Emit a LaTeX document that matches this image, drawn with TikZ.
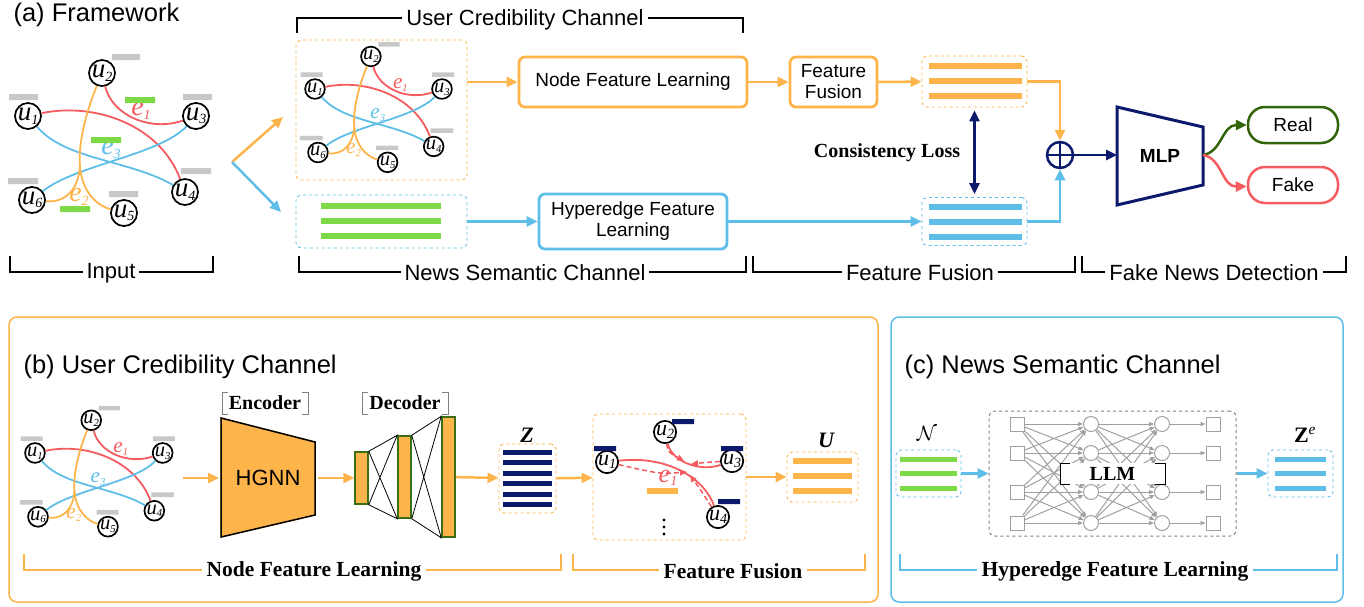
\documentclass[tikz,border=0pt]{standalone}
\usepackage{fontspec}
\setmainfont{Liberation Serif}
\setsansfont{Liberation Sans}
\usetikzlibrary{arrows.meta,positioning}

\definecolor{cOrange}{RGB}{253,180,75}
\definecolor{cBlue}{RGB}{95,190,232}
\definecolor{cRed}{RGB}{245,92,96}
\definecolor{cGreen}{RGB}{126,217,70}
\definecolor{cNavy}{RGB}{12,26,108}
\definecolor{cGray}{RGB}{200,200,200}
\definecolor{cReal}{RGB}{50,100,10}
\definecolor{cDeco}{RGB}{60,110,20}
\definecolor{cNet}{RGB}{160,160,160}

\newcommand{\fsz}[1]{\fontsize{#1}{#1}\selectfont}
\newcommand{\ulab}[1]{u\raisebox{-0.3ex}{\fsz{14}#1}}
\newcommand{\elab}[1]{e\raisebox{-0.3ex}{\fsz{14}#1}}

% hypergraph in the frame of the input panel
\newcommand{\hgraph}[1]{%
  \node[unode] (#1u1) at (28,116) {\ulab{1}};
  \node[unode] (#1u2) at (102,73) {\ulab{2}};
  \node[unode] (#1u3) at (196,116) {\ulab{3}};
  \node[unode] (#1u4) at (185,192) {\ulab{4}};
  \node[unode] (#1u5) at (124,213) {\ulab{5}};
  \node[unode] (#1u6) at (32,200) {\ulab{6}};
  \fill[cGray] (112,54) rectangle (140,60) (9,94) rectangle (38,100)
    (183,94) rectangle (212,100) (181,168) rectangle (211,174)
    (109,191) rectangle (138,197) (8,178) rectangle (38,184);
  \draw[hedge,cRed] (#1u1) .. controls (95,102) and (160,125) .. (#1u4);
  \draw[hedge,cRed] (#1u2) .. controls (112,115) and (150,132) .. (#1u3);
  \draw[hedge,cBlue] (#1u1) .. controls (65,160) and (130,160) .. (#1u4);
  \draw[hedge,cBlue] (#1u6) .. controls (75,165) and (160,155) .. (#1u3);
  \draw[hedge,cOrange] (#1u2) .. controls (85,115) and (78,145) .. (80,167)
    .. controls (82,190) and (95,205) .. (#1u5);
  \draw[hedge,cOrange] (#1u6) .. controls (65,203) and (78,190) .. (80,167);
  \node[elbl,cRed] (#1e1) at (141,111) {\elab{1}};
  \node[elbl,cOrange] (#1e2) at (79,197) {\elab{2}};
  \node[elbl,cBlue] (#1e3) at (111,150) {\elab{3}};
}

\begin{document}
\begin{tikzpicture}[x=1pt,y=-1pt,
    unode/.style={circle,draw,line width=1.7pt,minimum size=25pt,inner sep=0pt,font=\fsz{27}\itshape},
    fnode/.style={unode,minimum size=21pt,font=\fsz{22}\itshape},
    elbl/.style={inner sep=0pt,font=\fsz{28}\itshape},
    hedge/.style={line width=1.8pt},
    arr/.style={line width=2.5pt,-{Triangle[length=11pt,width=10pt]}},
    dharr/.style={cRed,line width=1.5pt,dash pattern=on 5pt off 3pt,-{Triangle[length=7pt,width=6pt]}},
    netarr/.style={cNet,line width=1pt,-{Triangle[length=5pt,width=4pt]}},
    orabox/.style={draw=cOrange,dashed,line width=0.9pt,rounded corners=5pt,inner sep=0pt},
    bluebox/.style={draw=cBlue,dashed,line width=0.9pt,rounded corners=5pt,inner sep=0pt},
    obig/.style={draw=cOrange,line width=2.8pt,rounded corners=6pt,font=\sffamily\fontsize{19}{21}\selectfont,align=center},
    bbig/.style={obig,draw=cBlue},
    outc/.style={rounded corners=17pt,line width=2.5pt,minimum width=90pt,minimum height=36pt,font=\sffamily\fsz{19}},
    brk/.style={line width=1.3pt},
    sanslbl/.style={fill=white,inner sep=4pt,font=\sffamily\fsz{22}},
    seriflbl/.style={fill=white,inner sep=5pt,font=\bfseries\fsz{21.5}},
    ttl/.style={anchor=west,font=\sffamily\fsz{25.5}},
    dlayer/.style={draw=cDeco,fill=cOrange,line width=1.5pt,minimum width=13pt,inner sep=0pt},
    sq/.style={draw=cNet,line width=1pt,minimum size=14pt,inner sep=0pt},
    cir/.style={circle,draw=cNet,line width=1pt,minimum size=15pt,inner sep=0pt}]
\useasboundingbox (0,0) rectangle (1364,606);

% ---------------- (a) framework
\node[ttl] (atitle) at (10,15) {(a) Framework};

\hgraph{i}
\fill[cGreen] (125,97) rectangle (155,103) (91,137) rectangle (121,143) (60,206) rectangle (90,212);

\coordinate (split) at (232,162);
\coordinate (otip) at (283,117);
\coordinate (btip) at (281,212);
\draw[arr,cOrange] (split) -- (otip);
\draw[arr,cBlue] (split) -- (btip);

% user credibility channel
\node[orabox,minimum width=171pt,minimum height=140pt] (ucc) at (381.5,110) {};
\begin{scope}[shift={(293.8,1.3)},scale=0.756,transform shape]
  \hgraph{t}
\end{scope}
\node[obig,minimum width=228pt,minimum height=50pt] (nfl) at (633,82) {Node Feature Learning};
\node[obig,minimum width=87pt,minimum height=50pt] (ffu) at (833.5,82) {Feature\\Fusion};
\node[orabox,minimum width=105pt,minimum height=51pt] (obars) at (974.5,81.5) {};
\foreach \y in {66,81,96}
  \draw[line width=6pt,cOrange] (929,\y) -- (1022,\y);
\draw[arr,cOrange] (nfl.west -| ucc.east) -- (nfl.west);
\draw[arr,cOrange] (nfl) -- (ffu);
\draw[arr,cOrange] (ffu) -- (obars);

% news semantic channel
\node[bluebox,minimum width=171pt,minimum height=53pt] (nsc) at (381.5,221.5) {};
\foreach \y in {206,221,236}
  \draw[line width=6pt,cGreen] (321,\y) -- (441,\y);
\node[bbig,minimum width=188pt,minimum height=55pt] (hfl) at (633,221.5) {Hyperedge Feature\\Learning};
\node[bluebox,minimum width=105pt,minimum height=48pt] (bbars) at (974.5,221.5) {};
\foreach \y in {207,222,237}
  \draw[line width=6pt,cBlue] (929,\y) -- (1022,\y);
\draw[arr,cBlue] (nsc) -- (hfl);
\draw[arr,cBlue] (hfl) -- (bbars);

\draw[line width=2.5pt,cNavy,{Triangle[length=11pt,width=10pt]}-{Triangle[length=11pt,width=10pt]},shorten <=3pt,shorten >=3pt] (obars) -- (bbars);
\node[font=\bfseries\fsz{20}] (closs) at (887,153) {Consistency Loss};

% fusion and detection
\node[circle,draw=cNavy,line width=2.5pt,minimum size=26pt,inner sep=0pt] (plus) at (1060,155) {};
\draw[cNavy,line width=2.5pt] (plus.north) -- (plus.south) (plus.west) -- (plus.east);
\draw[arr,cOrange] (obars.east) -| (plus.north);
\draw[arr,cBlue] (bbars.east) -| (plus.south);

\draw[cNavy,line width=3pt,line join=miter] (1117,107) -- (1203,127) -- (1203,185) -- (1117,205) -- cycle;
\node[font=\sffamily\bfseries\fsz{19}] (mlp) at (1160,156) {MLP};
\coordinate (mlpin) at (1117,155);
\coordinate (mlpout) at (1203,155);
\draw[arr,cNavy] (plus) -- (mlpin);

\node[outc,draw=cReal] (real) at (1293,125) {Real};
\node[outc,draw=cRed] (fake) at (1293,185) {Fake};
\draw[arr,cReal] (mlpout) .. controls (1222,152) and (1222,125) .. (real);
\draw[arr,cRed] (mlpout) .. controls (1222,158) and (1222,187) .. (fake);

% brackets of (a)
\draw[brk] (297,33) -- (297,18) -- (743,18) -- (743,33);
\node[sanslbl] (lucc) at (525,20) {User Credibility Channel};
\draw[brk] (10,256) -- (10,272) -- (213,272) -- (213,256);
\node[sanslbl] (linp) at (111,273) {Input};
\draw[brk] (299,256) -- (299,272) -- (746,272) -- (746,256);
\node[sanslbl] (lnsc) at (525,273) {News Semantic Channel};
\draw[brk] (753,256) -- (753,272) -- (1075,272) -- (1075,256);
\node[sanslbl] (lff) at (920,273) {Feature Fusion};
\draw[brk] (1082,256) -- (1082,272) -- (1346,272) -- (1346,256);
\node[sanslbl] (lfnd) at (1214,273) {Fake News Detection};

% ---------------- (b) user credibility channel
\draw[cOrange,line width=1.5pt,rounded corners=8pt] (9,317) rectangle (878,602);
\node[ttl] (btitle) at (20,367) {(b) User Credibility Channel};

\begin{scope}[shift={(13.7,364.8)},scale=0.76,transform shape]
  \hgraph{b}
\end{scope}

\draw[cOrange,line width=1.5pt,fill=cOrange] (221,418) -- (315,442) -- (315,515) -- (221,537) -- cycle;
\draw[line width=1.5pt] (221,418) -- (315,442) -- (315,515) -- (221,537) -- cycle;
\node[font=\sffamily\fsz{22}] (hgnn) at (268,478) {HGNN};
\coordinate (hgout) at (183,478);
\coordinate (hgin) at (219,478);
\coordinate (hgright) at (318,478);
\draw[arr,cOrange] (hgout) -- (hgin);

\node[font=\bfseries\fsz{20}] (enc) at (265,403) {Encoder};
\draw[gray,line width=1pt] (228,392) -| (222,414) -- (228,414);
\draw[gray,line width=1pt] (302,392) -| (308,414) -- (302,414);
\node[font=\bfseries\fsz{20}] (dec) at (405,403) {Decoder};
\draw[gray,line width=1pt] (368,392) -| (362,414) -- (368,414);
\draw[gray,line width=1pt] (442,392) -| (448,414) -- (442,414);

\node[dlayer,minimum height=52pt] (d1) at (361.5,478) {};
\node[dlayer,minimum height=82pt] (d2) at (404.5,477) {};
\node[dlayer,minimum height=120pt] (d3) at (448.5,477) {};
\foreach \a/\b in {d1/d2,d2/d3}
  \draw[line width=0.8pt] (\a.north east) -- (\b.north west) -- (\a.south east) -- (\b.south west) -- cycle;
\draw[arr,cOrange] (hgright) -- (d1);

\node[orabox,minimum width=57pt,minimum height=69pt] (zbox) at (527.5,478.5) {};
\foreach \y in {452,462.5,473,483.5,494,504.5}
  \draw[line width=5pt,cNavy] (503,\y) -- (552,\y);
\node[font=\bfseries\itshape\fsz{22}] (zlab) at (527,435) {Z};
\draw[arr,cOrange] (d3) -- (zbox);

% feature fusion of one hyperedge
\node[orabox,minimum width=153pt,minimum height=126pt] (fbox) at (669.5,477) {};
\draw[arr,cOrange] (zbox) -- (fbox);
\node[fnode] (f1) at (607,462) {\ulab{1}};
\node[fnode] (f2) at (665,432) {\ulab{2}};
\node[fnode] (f3) at (732,461) {\ulab{3}};
\node[fnode] (f4) at (718,517) {\ulab{4}};
\fill[cNavy] (594,446) rectangle (616,451) (672,419) rectangle (694,424)
  (721,446) rectangle (743,451) (718,499) rectangle (740,504);
\fill[cOrange] (647,488) rectangle (678,494);
\draw[hedge,cRed] (f1) .. controls (670,455) and (705,480) .. (f4);
\draw[hedge,cRed] (f2) .. controls (672,462) and (700,472) .. (f3);
\coordinate (fa) at (687,472);
\coordinate (fb) at (684,461);
\coordinate (fc) at (691,464);
\coordinate (fd) at (690,475);
\draw[dharr] (f1) .. controls (660,474) .. (fa);
\draw[dharr] (f2) .. controls (668,452) .. (fb);
\draw[dharr] (f3) .. controls (710,462) .. (fc);
\draw[dharr] (f4) .. controls (702,492) .. (fd);
\node[elbl,cRed,font=\fsz{26}\itshape] (fe1) at (668,478) {\elab{1}};
\foreach \y in {520,527,534}
  \fill (664,\y) circle (1.7);

\node[orabox,minimum width=71pt,minimum height=50pt] (ubox) at (822.5,477) {};
\foreach \y in {461,476,491}
  \draw[line width=6pt,cOrange] (793,\y) -- (852,\y);
\node[font=\bfseries\itshape\fsz{22}] (ulab) at (826,440) {U};
\draw[arr,cOrange] (fbox) -- (ubox);

\draw[brk,cOrange,line width=2pt] (24,554) -- (24,570) -- (561,570) -- (561,554);
\node[seriflbl] (lnfl) at (314,571) {Node Feature Learning};
\draw[brk,cOrange,line width=2pt] (573,554) -- (573,570) -- (865,570) -- (865,554);
\node[seriflbl] (lbff) at (733,571) {Feature Fusion};

% ---------------- (c) news semantic channel
\draw[cBlue,line width=1.5pt,rounded corners=8pt] (891,317) rectangle (1343,602);
\node[ttl] (ctitle) at (901,367) {(c) News Semantic Channel};

\node[bluebox,minimum width=65pt,minimum height=47pt] (nbox) at (928.5,473.5) {};
\foreach \y in {459,473,488}
  \draw[line width=5pt,cGreen] (900,\y) -- (957,\y);
\node[font=\fsz{22}] (nlab) at (927,433) {$\mathcal{N}$};

\node[draw=gray,dashed,line width=1pt,rounded corners=6pt,minimum width=247pt,minimum height=125pt] (llm) at (1112.5,473.5) {};
\foreach \i/\y in {1/424,2/453,3/492,4/523} {
  \node[sq] (s\i) at (1017,\y) {};
  \node[cir] (h\i) at (1091,\y) {};
  \node[cir] (g\i) at (1162,\y) {};
  \node[sq] (o\i) at (1213,\y) {};
}
\foreach \i in {1,...,4} {
  \foreach \j in {1,...,4} {
    \draw[netarr] (s\i) -- (h\j);
    \draw[netarr] (h\i) -- (g\j);
  }
  \draw[netarr] (g\i) -- (o\i);
}
\node[fill=white,font=\bfseries\fsz{20},minimum width=105pt,minimum height=21pt,inner sep=0pt] (llmlab) at (1112.5,473.5) {LLM};
\draw[line width=1pt] (1070,463) -| (1060,484) -- (1070,484);
\draw[line width=1pt] (1155,463) -| (1165,484) -- (1155,484);

\node[bluebox,minimum width=65pt,minimum height=47pt] (zebox) at (1300.5,473.5) {};
\foreach \y in {459,473,488}
  \draw[line width=5pt,cBlue] (1275,\y) -- (1326,\y);
\node[font=\fsz{22}] (zelab) at (1305,435) {\textbf{Z}\textsuperscript{\itshape e}};
\draw[arr,cBlue] (nbox) -- (llm);
\draw[arr,cBlue] (llm) -- (zebox);

\draw[brk,cBlue,line width=2pt] (900,554) -- (900,570) -- (1337,570) -- (1337,554);
\node[seriflbl] (lhfl) at (1115,571) {Hyperedge Feature Learning};
\end{tikzpicture}
\end{document}
